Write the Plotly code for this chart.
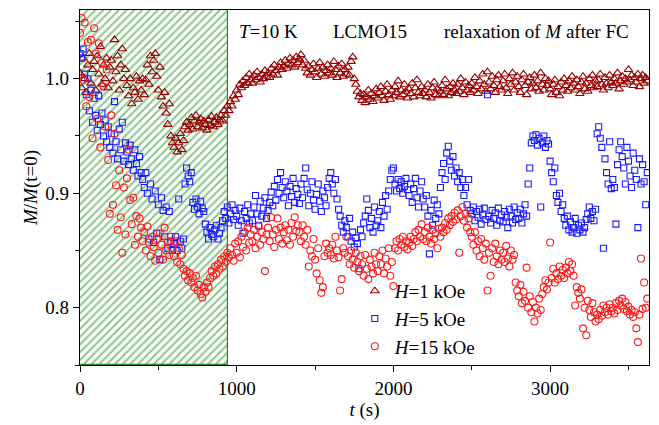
import plotly.graph_objects as go

# Sampling interval of the relaxation measurement (s)
SAMPLE_STEP = 10
# End of the field-cooling transient (hatched region), s
TRANSIENT_END = 945

# M/M(t=0) for H = 1 kOe
m_1koe = [
    1.005, 0.992, 1.018, 1.000, 0.988, 1.012, 1.022, 0.996, 1.008, 1.015,
    0.990, 1.020, 1.004, 1.028, 0.995, 1.012, 1.000, 1.018, 0.992, 1.010,
    1.016, 0.998, 1.034, 1.006, 1.020, 0.990, 1.012, 1.026, 1.000, 1.008,
    0.994, 0.985, 1.000, 0.978, 0.992, 0.988, 1.002, 0.982, 0.998, 0.990,
    1.000, 0.986, 0.999, 1.012, 0.995, 1.020, 1.006, 1.016, 1.022, 1.002,
    0.990, 1.010, 0.984, 0.976, 0.988, 0.970, 0.960, 0.978, 0.950, 0.944,
    0.940, 0.948, 0.936, 0.944, 0.952, 0.938, 0.946, 0.958, 0.962, 0.955,
    0.960, 0.966, 0.956, 0.963, 0.968, 0.958, 0.962, 0.965, 0.957, 0.963,
    0.960, 0.955, 0.964, 0.959, 0.967, 0.958, 0.962, 0.966, 0.960, 0.964,
    0.968, 0.963, 0.972, 0.968, 0.976, 0.972, 0.980, 0.976, 0.985, 0.982,
    0.990, 0.986, 0.995, 0.992, 0.998, 0.994, 1.001, 0.996, 1.004, 0.999,
    0.996, 1.003, 0.999, 1.006, 1.001, 0.997, 1.004, 1.000, 1.007, 1.002,
    1.005, 1.001, 1.009, 1.004, 1.012, 1.007, 1.003, 1.010, 1.014, 1.008,
    1.011, 1.016, 1.009, 1.013, 1.018, 1.012, 1.016, 1.010, 1.019, 1.014,
    1.017, 1.021, 1.012, 1.016, 1.009, 1.005, 1.011, 1.003, 1.008, 1.013,
    1.006, 1.001, 1.009, 1.014, 1.004, 1.010, 1.002, 1.007, 1.012, 1.005,
    1.009, 1.003, 1.015, 1.008, 1.001, 1.011, 1.005, 1.013, 1.002, 1.008,
    1.004, 1.010, 1.003, 1.015, 1.019, 1.000, 0.995, 0.989, 0.984, 0.987,
    0.981, 0.986, 0.979, 0.984, 0.990, 0.982, 0.987, 0.980, 0.985, 0.991,
    0.983, 0.988, 0.993, 0.985, 0.981, 0.989, 0.995, 0.986, 0.982, 0.990,
    0.985, 0.993, 0.988, 0.998, 0.984, 0.990, 0.986, 0.995, 0.989, 0.983,
    0.991, 0.987, 0.996, 0.984, 0.992, 0.999, 0.988, 0.985, 0.993, 0.987,
    0.990, 0.984, 0.995, 0.988, 0.983, 0.992, 0.997, 0.986, 0.991, 0.985,
    0.989, 0.994, 0.986, 0.999, 0.991, 0.985, 0.993, 0.988, 0.996, 0.990,
    0.987, 0.995, 0.989, 1.000, 0.992, 0.986, 0.997, 0.990, 0.994, 0.988,
    0.996, 0.990, 1.001, 0.993, 0.987, 0.998, 0.991, 1.004, 0.995, 0.989,
    1.006, 0.997, 0.991, 1.002, 0.994, 0.988, 0.999, 1.003, 0.993, 0.990,
    0.998, 1.004, 0.992, 0.987, 1.000, 0.995, 1.005, 0.990, 0.997, 1.002,
    0.993, 0.988, 0.999, 1.004, 0.994, 0.986, 0.997, 1.001, 0.991, 0.996,
    1.003, 0.992, 0.998, 0.989, 1.005, 0.995, 0.990, 1.000, 0.994, 0.998,
    0.991, 0.986, 0.995, 0.999, 0.988, 0.993, 0.985, 0.997, 0.990, 1.000,
    0.994, 0.989, 0.998, 0.992, 1.002, 0.996, 0.990, 0.999, 0.993, 0.987,
    0.997, 1.002, 0.991, 0.996, 0.989, 1.000, 0.994, 1.003, 0.992, 0.998,
    0.993, 0.999, 1.004, 0.995, 0.990, 1.001, 0.996, 0.992, 1.003, 0.997,
    0.994, 1.000, 0.996, 1.005, 0.991, 0.998, 1.002, 0.995, 1.000, 0.997,
    1.008, 0.999, 1.003, 0.994, 1.001, 0.997, 1.004, 0.993, 1.000, 1.003,
    0.996, 1.001, 0.998,
]

# M/M(t=0) for H = 5 kOe
m_5koe = [
    1.022, 1.018, 1.026, 1.004, 0.986, 1.000, 0.972, 0.990, 0.962, 0.983,
    0.968, 0.955, 0.985, 0.960, 0.970, 0.950, 0.964, 0.945, 0.958, 0.940,
    0.952, 0.935, 0.980, 0.945, 0.930, 0.956, 0.938, 0.962, 0.928, 0.944,
    0.936, 0.925, 0.942, 0.930, 0.920, 0.938, 0.926, 0.915, 0.932, 0.918,
    0.912, 0.905, 0.918, 0.900, 0.860, 0.908, 0.895, 0.857, 0.902, 0.865,
    0.890, 0.842, 0.896, 0.885, 0.862, 0.888, 0.852, 0.884, 0.858, 0.850,
    0.856, 0.862, 0.850, 0.895, 0.858, 0.852, 0.860, 0.908, 0.922, 0.915,
    0.910, 0.918, 0.892, 0.886, 0.895, 0.888, 0.882, 0.893, 0.887, 0.884,
    0.873, 0.866, 0.860, 0.870, 0.864, 0.862, 0.868, 0.872, 0.860, 0.865,
    0.870, 0.876, 0.884, 0.878, 0.888, 0.874, 0.882, 0.890, 0.877, 0.885,
    0.880, 0.872, 0.887, 0.876, 0.865, 0.884, 0.878, 0.890, 0.874, 0.882,
    0.876, 0.888, 0.898, 0.882, 0.872, 0.893, 0.880, 0.887, 0.896, 0.878,
    0.885, 0.892, 0.901, 0.889, 0.906, 0.894, 0.912, 0.900, 0.918, 0.905,
    0.896, 0.910, 0.902, 0.889, 0.906, 0.897, 0.913, 0.892, 0.904, 0.899,
    0.891, 0.908, 0.896, 0.913, 0.922, 0.903, 0.889, 0.900, 0.910, 0.894,
    0.886, 0.899, 0.908, 0.893, 0.884, 0.902, 0.896, 0.889, 0.905, 0.913,
    0.918, 0.908, 0.900, 0.912, 0.895, 0.886, 0.880, 0.872, 0.866, 0.876,
    0.870, 0.862, 0.878, 0.858, 0.866, 0.853, 0.861, 0.856, 0.834, 0.868,
    0.862, 0.874, 0.880, 0.895, 0.885, 0.870, 0.878, 0.866, 0.888, 0.872,
    0.876, 0.884, 0.870, 0.892, 0.880, 0.898, 0.886, 0.902, 0.912, 0.920,
    0.922, 0.908, 0.902, 0.912, 0.904, 0.910, 0.900, 0.906, 0.913, 0.903,
    0.898, 0.908, 0.892, 0.904, 0.913, 0.896, 0.888, 0.902, 0.910, 0.895,
    0.888, 0.898, 0.880, 0.847, 0.885, 0.872, 0.894, 0.878, 0.890, 0.882,
    0.905, 0.918, 0.926, 0.912, 0.935, 0.941, 0.928, 0.920, 0.932, 0.915,
    0.922, 0.910, 0.918, 0.905, 0.912, 0.898, 0.905, 0.890, 0.912, 0.885,
    0.882, 0.888, 0.876, 0.884, 0.879, 0.886, 0.873, 0.881, 0.887, 0.877,
    0.986, 0.880, 0.874, 0.885, 0.878, 0.883, 0.872, 0.887, 0.876, 0.881,
    0.875, 0.884, 0.879, 0.870, 0.886, 0.880, 0.874, 0.888, 0.877, 0.883,
    0.878, 0.886, 0.874, 0.882, 0.890, 0.880, 0.908, 0.922, 0.944, 0.950,
    0.946, 0.951, 0.942, 0.948, 0.888, 0.944, 0.950, 0.940, 0.946, 0.943,
    0.928, 0.918, 0.910, 0.922, 0.898, 0.892, 0.900, 0.884, 0.890, 0.878,
    0.872, 0.880, 0.868, 0.875, 0.866, 0.870, 0.878, 0.865, 0.872, 0.868,
    0.874, 0.866, 0.870, 0.877, 0.882, 0.888, 0.878, 0.884, 0.876, 0.886,
    0.952, 0.958, 0.948, 0.940, 0.852, 0.930, 0.918, 0.908, 0.945, 0.904,
    0.912, 0.905, 0.873, 0.925, 0.938, 0.945, 0.932, 0.922, 0.908, 0.940,
    0.928, 0.915, 0.905, 0.935, 0.920, 0.912, 0.870, 0.930, 0.908, 0.925,
    0.910, 0.890, 0.918,
]

# M/M(t=0) for H = 15 kOe
m_15koe = [
    1.040, 1.053, 0.999, 1.049, 0.976, 1.032, 0.984, 1.034, 0.948, 1.044,
    1.022, 0.965, 1.031, 0.940, 1.014, 0.993, 0.958, 1.008, 0.929, 0.882,
    0.968, 0.890, 0.952, 0.907, 0.868, 0.920, 0.879, 0.848, 0.905, 0.864,
    0.913, 0.938, 0.894, 0.873, 0.896, 0.855, 0.880, 0.862, 0.878, 0.870,
    0.858, 0.866, 0.850, 0.871, 0.857, 0.845, 0.862, 0.853, 0.841, 0.860,
    0.848, 0.865, 0.855, 0.842, 0.870, 0.850, 0.858, 0.846, 0.862, 0.852,
    0.845, 0.858, 0.840, 0.852, 0.838, 0.846, 0.834, 0.828, 0.832, 0.824,
    0.830, 0.822, 0.826, 0.818, 0.828, 0.815, 0.820, 0.812, 0.809, 0.818,
    0.814, 0.822, 0.818, 0.826, 0.832, 0.828, 0.836, 0.830, 0.838, 0.834,
    0.842, 0.836, 0.845, 0.840, 0.848, 0.844, 0.852, 0.846, 0.841, 0.856,
    0.848, 0.858, 0.844, 0.862, 0.853, 0.866, 0.850, 0.870, 0.857, 0.864,
    0.858, 0.868, 0.852, 0.862, 0.871, 0.855, 0.866, 0.860, 0.832, 0.864,
    0.870, 0.858, 0.879, 0.864, 0.853, 0.868, 0.878, 0.860, 0.870, 0.856,
    0.866, 0.872, 0.859, 0.868, 0.855, 0.874, 0.862, 0.879, 0.867, 0.872,
    0.866, 0.858, 0.872, 0.862, 0.855, 0.868, 0.836, 0.850, 0.845, 0.860,
    0.842, 0.830, 0.852, 0.824, 0.813, 0.818, 0.845, 0.856, 0.848, 0.852,
    0.846, 0.855, 0.843, 0.862, 0.850, 0.844, 0.815, 0.825, 0.852, 0.848,
    0.862, 0.845, 0.838, 0.850, 0.842, 0.835, 0.848, 0.840, 0.832, 0.845,
    0.838, 0.828, 0.846, 0.834, 0.825, 0.842, 0.836, 0.830, 0.848, 0.838,
    0.832, 0.845, 0.838, 0.850, 0.830, 0.843, 0.836, 0.852, 0.828, 0.840,
    0.819, 0.852, 0.858, 0.850, 0.860, 0.855, 0.862, 0.853, 0.858, 0.851,
    0.857, 0.862, 0.854, 0.860, 0.866, 0.858, 0.868, 0.862, 0.873, 0.860,
    0.866, 0.858, 0.870, 0.862, 0.856, 0.868, 0.860, 0.865, 0.852, 0.869,
    0.862, 0.870, 0.866, 0.874, 0.868, 0.878, 0.872, 0.880, 0.875, 0.883,
    0.877, 0.885, 0.848, 0.880, 0.888, 0.876, 0.882, 0.870, 0.878, 0.866,
    0.862, 0.855, 0.866, 0.850, 0.858, 0.845, 0.860, 0.852, 0.842, 0.856,
    0.815, 0.848, 0.828, 0.852, 0.840, 0.856, 0.845, 0.838, 0.850, 0.842,
    0.848, 0.840, 0.854, 0.843, 0.836, 0.850, 0.842, 0.846, 0.822, 0.815,
    0.810, 0.820, 0.804, 0.814, 0.806, 0.835, 0.800, 0.810, 0.796, 0.805,
    0.788, 0.800, 0.795, 0.808, 0.798, 0.812, 0.818, 0.824, 0.816, 0.822,
    0.857, 0.826, 0.834, 0.822, 0.830, 0.825, 0.836, 0.828, 0.833, 0.826,
    0.835, 0.830, 0.840, 0.832, 0.838, 0.828, 0.802, 0.818, 0.813, 0.808,
    0.816, 0.782, 0.800, 0.776, 0.806, 0.798, 0.792, 0.804, 0.796, 0.788,
    0.794, 0.790, 0.798, 0.793, 0.802, 0.796, 0.800, 0.794, 0.803, 0.797,
    0.800, 0.795, 0.804, 0.798, 0.806, 0.802, 0.808, 0.799, 0.805, 0.797,
    0.801, 0.794, 0.798, 0.792, 0.796, 0.782, 0.770, 0.794, 0.843, 0.799,
    0.822, 0.800, 0.808,
]

series_names = ["<i>H</i>=1 kOe", "<i>H</i>=5 kOe", "<i>H</i>=15 kOe"]
x_tick_values = [0, 1000, 2000, 3000]
y_tick_values = [0.8, 0.9, 1.0]

X_RANGE = [0, 3631]
Y_RANGE = [0.75, 1.06]

FONT = "Liberation Serif"
HATCH_GREEN = "#1c8c1c"

fig = go.Figure()

# Hatched band marking the transient right after field cooling
fig.add_trace(go.Bar(
    x=[TRANSIENT_END / 2], y=[Y_RANGE[1] - Y_RANGE[0]], base=[Y_RANGE[0]],
    width=[TRANSIENT_END],
    marker=dict(
        color="white",
        line=dict(color=HATCH_GREEN, width=1.2),
        pattern=dict(shape="/", fgcolor=HATCH_GREEN, bgcolor="white",
                     size=5.5, solidity=0.38),
    ),
    showlegend=False, hoverinfo="skip",
))

styles = [
    dict(symbol="triangle-up-open", color="#990000", size=7.5),
    dict(symbol="square-open", color="#1a1aff", size=6),
    dict(symbol="circle-open", color="#ff1a1a", size=7),
]

for name, values, st in zip(series_names, [m_1koe, m_5koe, m_15koe], styles):
    t = [i * SAMPLE_STEP for i in range(len(values))]
    fig.add_trace(go.Scatter(
        x=t, y=values, mode="markers", name=name,
        marker=dict(symbol=st["symbol"], size=st["size"], color=st["color"],
                    line=dict(width=1.1, color=st["color"])),
    ))

axis_common = dict(
    showline=True, linecolor="black", linewidth=1.2, mirror=True,
    ticks="outside", ticklen=6, tickwidth=1.2, tickcolor="black",
    showgrid=False, zeroline=False,
    tickfont=dict(family=FONT, size=19, color="black"),
)

fig.update_xaxes(
    range=X_RANGE, tickvals=x_tick_values,
    minor=dict(dtick=500, tick0=0, ticks="outside", ticklen=3.5,
               tickwidth=1.2, tickcolor="black", showgrid=False),
    title=dict(text="<i>t</i> (s)", font=dict(family=FONT, size=19, color="black"),
               standoff=4),
    **axis_common,
)
fig.update_yaxes(
    range=Y_RANGE, tickvals=y_tick_values, tickformat=".1f",
    minor=dict(dtick=0.05, tick0=0.75, ticks="outside", ticklen=3.5,
               tickwidth=1.2, tickcolor="black", showgrid=False),
    title=dict(text="<i>M</i>/<i>M</i>(t=0)", font=dict(family=FONT, size=19, color="black"),
               standoff=2),
    **axis_common,
)

annot_font = dict(family=FONT, size=19, color="black")
for text, xpos in [("<i>T</i>=10 K", 1000), ("LCMO15", 1600), ("relaxation of <i>M</i> after FC", 2310)]:
    fig.add_annotation(x=xpos, y=1.052, xref="x", yref="y", text=text,
                       showarrow=False, xanchor="left", yanchor="top", font=annot_font)

fig.update_layout(
    width=659, height=425,
    margin=dict(l=80, r=10, t=9, b=54),
    plot_bgcolor="white", paper_bgcolor="white",
    font=dict(family=FONT, size=19, color="black"),
    legend=dict(x=0.483, y=0.262, xanchor="left", yanchor="top",
                bgcolor="rgba(0,0,0,0)", font=dict(family=FONT, size=19, color="black"),
                tracegroupgap=0),
    bargap=0,
)

fig.write_html("out.html")
